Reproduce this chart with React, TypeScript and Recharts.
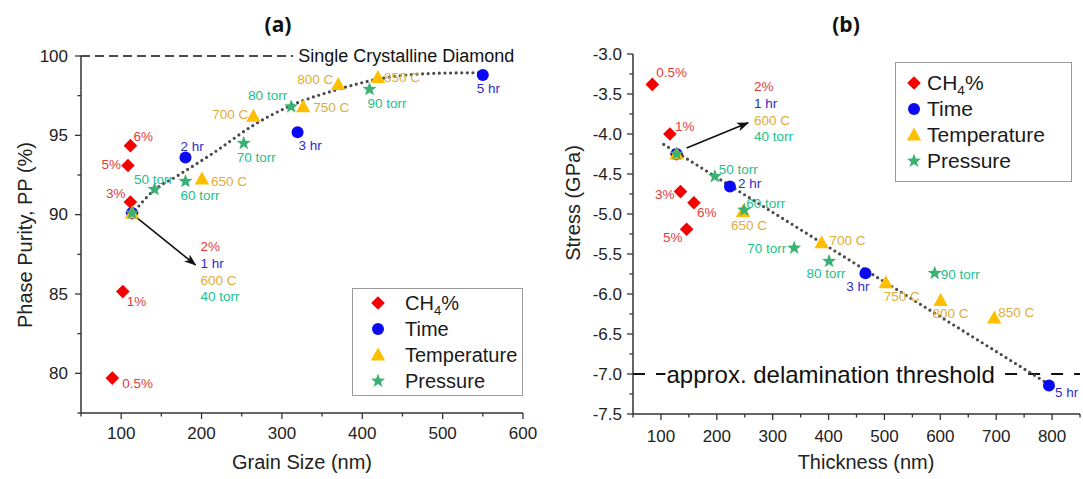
import React from "react";
import { ComposedChart, Line, Scatter, XAxis, YAxis, ReferenceLine, Legend } from "recharts";

type Pt = { x: number; y: number; label?: string };

// ---------- (a) phase purity vs grain size ----------
const ch4A: Pt[] = [
  { x: 89, y: 79.7, label: "0.5%" },
  { x: 102, y: 85.15, label: "1%" },
  { x: 113.5, y: 90.1 },
  { x: 111.5, y: 90.8, label: "3%" },
  { x: 108.5, y: 93.1, label: "5%" },
  { x: 111.5, y: 94.35, label: "6%" },
];
const timeA: Pt[] = [
  { x: 113.5, y: 90.1 },
  { x: 180, y: 93.6, label: "2 hr" },
  { x: 319.5, y: 95.2, label: "3 hr" },
  { x: 550, y: 98.8, label: "5 hr" },
];
const tempA: Pt[] = [
  { x: 113.5, y: 90.1 },
  { x: 200.5, y: 92.25, label: "650 C" },
  { x: 264.5, y: 96.2, label: "700 C" },
  { x: 326.5, y: 96.8, label: "750 C" },
  { x: 370, y: 98.2, label: "800 C" },
  { x: 419.5, y: 98.65, label: "850 C" },
];
const pressA: Pt[] = [
  { x: 113.5, y: 90.1 },
  { x: 141.5, y: 91.6, label: "50 torr" },
  { x: 180, y: 92.1, label: "60 torr" },
  { x: 252.5, y: 94.5, label: "70 torr" },
  { x: 311.5, y: 96.8, label: "80 torr" },
  { x: 409, y: 97.9, label: "90 torr" },
];
const trendA: Pt[] = [
  { x: 113, y: 90.0 },
  { x: 140, y: 91.5 },
  { x: 170, y: 92.45 },
  { x: 215, y: 93.9 },
  { x: 265, y: 95.65 },
  { x: 310, y: 96.85 },
  { x: 370, y: 97.9 },
  { x: 420, y: 98.55 },
  { x: 485, y: 98.9 },
  { x: 550, y: 98.95 },
];
const arrowA: Pt[] = [
  { x: 117.8, y: 89.87 },
  { x: 192.5, y: 86.83 },
];
const diamondRefA = [{ x: 50, y: 100 }, { x: 314, y: 100 }];
const diamondTextA = [{ x: 314, y: 100, label: "Single Crystalline Diamond" }];
const xTicksA = [50, 100, 150, 200, 250, 300, 350, 400, 450, 500, 550, 600];
const yTicksA = [77.5, 80, 82.5, 85, 87.5, 90, 92.5, 95, 97.5, 100];

// ---------- (b) stress vs thickness ----------
const ch4B: Pt[] = [
  { x: 84.5, y: -3.38, label: "0.5%" },
  { x: 116, y: -4.0, label: "1%" },
  { x: 128, y: -4.25 },
  { x: 135, y: -4.72, label: "3%" },
  { x: 159, y: -4.86, label: "6%" },
  { x: 146, y: -5.19, label: "5%" },
];
const timeB: Pt[] = [
  { x: 128, y: -4.25 },
  { x: 223.5, y: -4.655, label: "2 hr" },
  { x: 466, y: -5.74, label: "3 hr" },
  { x: 794.5, y: -7.145, label: "5 hr" },
];
const tempB: Pt[] = [
  { x: 128, y: -4.25 },
  { x: 247, y: -4.97, label: "650 C" },
  { x: 387.5, y: -5.36, label: "700 C" },
  { x: 502.5, y: -5.86, label: "750 C" },
  { x: 600.5, y: -6.08, label: "800 C" },
  { x: 696.5, y: -6.3, label: "850 C" },
];
const pressB: Pt[] = [
  { x: 128, y: -4.25 },
  { x: 196.5, y: -4.53, label: "50 torr" },
  { x: 249, y: -4.95, label: "60 torr" },
  { x: 338.5, y: -5.425, label: "70 torr" },
  { x: 401, y: -5.59, label: "80 torr" },
  { x: 590, y: -5.74, label: "90 torr" },
];
const trendB: Pt[] = [
  { x: 105, y: -4.13 },
  { x: 790, y: -7.11 },
];
const arrowB: Pt[] = [
  { x: 146, y: -4.175 },
  { x: 256, y: -3.86 },
];
const delamLeftB = [{ x: 50, y: -7 }, { x: 108, y: -7 }];
const delamRightB = [{ x: 716, y: -7 }, { x: 850, y: -7 }];
const delamTextB = [{ x: 110, y: -7, label: "approx. delamination threshold" }];
const xTicksB = [50, 100, 150, 200, 250, 300, 350, 400, 450, 500, 550, 600, 650, 700, 750, 800, 850];
const yTicksB = [-7.5, -7.25, -7, -6.75, -6.5, -6.25, -6, -5.75, -5.5, -5.25, -5, -4.75, -4.5, -4.25, -4, -3.75, -3.5, -3.25, -3];

const noteLines = ["2%", "1 hr", "600 C", "40 torr"];

// ---------- styling ----------
const SERIES = [
  { name: "ch4", fill: "#f40000", text: "#e53b3b", kind: "diamond" },
  { name: "Time", fill: "#0a0af2", text: "#2d2dcc", kind: "circle" },
  { name: "Temperature", fill: "#ffbf00", text: "#e0ad3a", kind: "triangle" },
  { name: "Pressure", fill: "#3bb273", text: "#22c08a", kind: "star" },
];

type Pos = [number, number, "start" | "middle" | "end"];
const labelPosA: Record<string, Pos> = {
  "0.5%": [10, 5, "start"], "1%": [4, 10, "start"], "3%": [-5, -8, "end"], "5%": [-7, -1, "end"], "6%": [3, -9, "start"],
  "2 hr": [-5, -11, "start"], "3 hr": [1, 13, "start"], "5 hr": [-6, 13, "start"],
  "650 C": [9, 3, "start"], "700 C": [-5, -2, "end"], "750 C": [10, 1, "start"], "800 C": [-5, -5, "end"], "850 C": [6, 0, "start"],
  "50 torr": [-1, -10, "middle"], "60 torr": [-5, 14, "start"], "70 torr": [-7, 14, "start"], "80 torr": [-4, -11, "end"], "90 torr": [-2, 14, "start"],
};
const labelPosB: Record<string, Pos> = {
  "0.5%": [4, -12, "start"], "1%": [5, -8, "start"], "3%": [-6, 3, "end"], "6%": [3, 10, "start"], "5%": [-4, 8, "end"],
  "2 hr": [8, -3, "start"], "3 hr": [4, 13, "end"], "5 hr": [6, 7, "start"],
  "650 C": [-12, 14, "start"], "700 C": [8, -2, "start"], "750 C": [-2, 14, "start"], "800 C": [-8, 13, "start"], "850 C": [4, -6, "start"],
  "50 torr": [4, -7, "start"], "60 torr": [2, -7, "start"], "70 torr": [-8, 0, "end"], "80 torr": [-3, 12, "middle"], "90 torr": [6, 1, "start"],
};

const FONT = '"Liberation Sans", Arial, sans-serif';
const AXIS = "#333";

function Marker({ kind, cx, cy, fill, s = 1 }: { kind: string; cx: number; cy: number; fill: string; s?: number }) {
  if (kind === "diamond") {
    const r = 6.8 * s;
    return <path d={`M${cx} ${cy - r}L${cx + r} ${cy}L${cx} ${cy + r}L${cx - r} ${cy}Z`} fill={fill} />;
  }
  if (kind === "circle") return <circle cx={cx} cy={cy} r={6 * s} fill={fill} />;
  if (kind === "triangle") {
    return <path d={`M${cx} ${cy - 7.5 * s}L${cx + 7.2 * s} ${cy + 5.5 * s}L${cx - 7.2 * s} ${cy + 5.5 * s}Z`} fill={fill} />;
  }
  const pts: string[] = [];
  for (let i = 0; i < 10; i++) {
    const rad = (i % 2 ? 3.1 : 7.4) * s;
    const a = -Math.PI / 2 + (i * Math.PI) / 5;
    pts.push(`${cx + rad * Math.cos(a)},${cy + rad * Math.sin(a)}`);
  }
  return <polygon points={pts.join(" ")} fill={fill} />;
}

const pointShape = (si: number, pos: Record<string, Pos>) => (p: any) => {
  const s = SERIES[si];
  const lab = p.payload?.label;
  const lp = lab ? pos[lab] : undefined;
  return (
    <g>
      <Marker kind={s.kind} cx={p.cx} cy={p.cy} fill={s.fill} />
      {lp && (
        <text x={p.cx + lp[0]} y={p.cy + lp[1]} textAnchor={lp[2]} dominantBaseline="central" fontSize={13.5} fill={s.text}>
          {lab}
        </text>
      )}
    </g>
  );
};

const textShape = (dx: number, size: number) => (p: any) => (
  <text x={p.cx + dx} y={p.cy} dominantBaseline="central" fontSize={size} fill="#111">
    {p.payload.label}
  </text>
);

const noteDot = (dx: number, dy0: number) => (p: any) => {
  if (p.index !== 1) return <g key={`n${p.index}`} />;
  return (
    <g key="note">
      {noteLines.map((t, i) => (
        <text key={t} x={p.cx + dx} y={p.cy + dy0 + i * 16.6} dominantBaseline="central" fontSize={13.5} fill={SERIES[i].text}>
          {t}
        </text>
      ))}
    </g>
  );
};

const yTick = (isMajor: (v: number) => boolean, fmt: (v: number) => string, gap: number) => (p: any) => {
  const v = p.payload.value;
  const major = isMajor(v);
  const len = major ? 6 : 3.5;
  return (
    <g>
      <line x1={p.x - len} x2={p.x} y1={p.y} y2={p.y} stroke={AXIS} strokeWidth={1.3} />
      {major && (
        <text x={p.x - gap} y={p.y} textAnchor="end" dominantBaseline="central" fontSize={17} fill="#222">
          {fmt(v)}
        </text>
      )}
    </g>
  );
};

const xTick = (isMajor: (v: number) => boolean, gap: number) => (p: any) => {
  const v = p.payload.value;
  const major = isMajor(v);
  const len = major ? 6 : 3.5;
  return (
    <g>
      <line x1={p.x} x2={p.x} y1={p.y} y2={p.y + len} stroke={AXIS} strokeWidth={1.3} />
      {major && (
        <text x={p.x} y={p.y + gap} textAnchor="middle" dominantBaseline="central" fontSize={17} fill="#222">
          {v}
        </text>
      )}
    </g>
  );
};

const LegendBox = ({ width, pad, mx, tx, fs }: { width: number; pad: number; mx: number; tx: number; fs: number }) => (
  <div style={{ width, border: "1px solid #9a9a9a", background: "#fff", padding: `${pad}px 0`, boxSizing: "border-box", fontFamily: FONT }}>
    {SERIES.map((s) => (
      <div key={s.name} style={{ display: "flex", alignItems: "center", height: 26 }}>
        <svg width={tx} height={26} style={{ flex: "none" }}>
          <Marker kind={s.kind} cx={mx} cy={13} fill={s.fill} />
        </svg>
        <span style={{ fontSize: fs, color: "#1a1a1a", lineHeight: "26px", whiteSpace: "nowrap" }}>
          {s.name === "ch4" ? (
            <>
              CH<sub style={{ fontSize: fs * 0.65, lineHeight: 0 }}>4</sub>%
            </>
          ) : (
            s.name
          )}
        </span>
      </div>
    ))}
  </div>
);

const abs = (l: number, t: number, extra: React.CSSProperties = {}): React.CSSProperties => ({
  position: "absolute",
  left: l,
  top: t,
  transform: "translate(-50%, -50%)",
  whiteSpace: "nowrap",
  ...extra,
});

export default function App() {
  const seriesA = [ch4A, timeA, tempA, pressA];
  const seriesB = [ch4B, timeB, tempB, pressB];
  return (
    <div style={{ position: "absolute", left: 0, top: 0, width: 1083, height: 479, background: "#fff", fontFamily: FONT, overflow: "hidden" }}>
      <svg width={0} height={0} style={{ position: "absolute" }}>
        <defs>
          <marker id="arrowhead" viewBox="0 0 12 10" refX="11" refY="5" markerWidth="12" markerHeight="10" markerUnits="userSpaceOnUse" orient="auto">
            <path d="M0,0.5 L12,5 L0,9.5 L3,5 Z" fill="#111" />
          </marker>
        </defs>
      </svg>

      <div style={{ position: "absolute", left: 0, top: 0 }}>
        <ComposedChart width={540} height={479} margin={{ top: 56, right: 17, bottom: 0, left: 0 }}>
          <XAxis dataKey="x" type="number" domain={[50, 600]} ticks={xTicksA} interval={0} height={66} tickSize={0} tickMargin={0}
            tickLine={false} axisLine={{ stroke: AXIS, strokeWidth: 1.5 }} tick={xTick((v) => v % 100 === 0, 20)} />
          <YAxis dataKey="y" type="number" domain={[77.5, 100]} ticks={yTicksA} interval={0} width={81} tickSize={0} tickMargin={0}
            tickLine={false} axisLine={{ stroke: AXIS, strokeWidth: 1.5 }} tick={yTick((v) => v % 5 === 0, (v) => String(v), 13)} />
          <ReferenceLine segment={diamondRefA} stroke="#111" strokeWidth={1.6} strokeDasharray="9 5" />
          <Scatter data={diamondTextA} dataKey="y" shape={textShape(5, 18)} isAnimationActive={false} legendType="none" />
          <Line data={trendA} dataKey="y" type="monotone" stroke="#4a4a4a" strokeWidth={3.2} strokeDasharray="0 5.6" strokeLinecap="round"
            dot={false} activeDot={false} isAnimationActive={false} legendType="none" />
          <Line data={arrowA} dataKey="y" type="linear" stroke="#111" strokeWidth={1.6} markerEnd="url(#arrowhead)"
            dot={noteDot(5, -18)} activeDot={false} isAnimationActive={false} legendType="none" />
          {seriesA.map((d, i) => (
            <Scatter key={i} data={d} dataKey="y" shape={pointShape(i, labelPosA)} isAnimationActive={false} />
          ))}
          <Legend layout="vertical" align="center" verticalAlign="middle" wrapperStyle={{ left: 352, top: 288, width: 171 }}
            content={() => <LegendBox width={171} pad={1} mx={25} tx={52} fs={20} />} />
        </ComposedChart>
      </div>

      <div style={{ position: "absolute", left: 540, top: 0 }}>
        <ComposedChart width={543} height={479} margin={{ top: 54, right: 3, bottom: 0, left: 0 }}>
          <XAxis dataKey="x" type="number" domain={[50, 850]} ticks={xTicksB} interval={0} height={65} tickSize={0} tickMargin={0}
            tickLine={false} axisLine={{ stroke: AXIS, strokeWidth: 1.5 }} tick={xTick((v) => v % 100 === 0, 22)} />
          <YAxis dataKey="y" type="number" domain={[-7.5, -3]} ticks={yTicksB} interval={0} width={93} tickSize={0} tickMargin={0}
            tickLine={false} axisLine={{ stroke: AXIS, strokeWidth: 1.5 }}
            tick={yTick((v) => Math.abs(v * 2 - Math.round(v * 2)) < 1e-6, (v) => v.toFixed(1), 11)} />
          <ReferenceLine segment={delamLeftB} stroke="#111" strokeWidth={2} strokeDasharray="12 11" />
          <ReferenceLine segment={delamRightB} stroke="#111" strokeWidth={2} strokeDasharray="12 11" />
          <Scatter data={delamTextB} dataKey="y" shape={textShape(0, 24)} isAnimationActive={false} legendType="none" />
          <Line data={trendB} dataKey="y" type="linear" stroke="#4a4a4a" strokeWidth={3.2} strokeDasharray="0 5.6" strokeLinecap="round"
            dot={false} activeDot={false} isAnimationActive={false} legendType="none" />
          <Line data={arrowB} dataKey="y" type="linear" stroke="#111" strokeWidth={1.6} markerEnd="url(#arrowhead)"
            dot={noteDot(6, -36)} activeDot={false} isAnimationActive={false} legendType="none" />
          {seriesB.map((d, i) => (
            <Scatter key={i} data={d} dataKey="y" shape={pointShape(i, labelPosB)} isAnimationActive={false} />
          ))}
          <Legend layout="vertical" align="center" verticalAlign="middle" wrapperStyle={{ left: 355, top: 62, width: 177 }}
            content={() => <LegendBox width={177} pad={7} mx={18} tx={31} fs={21} />} />
        </ComposedChart>
      </div>

      <div style={abs(278, 24, { fontFamily: '"Open Sans", sans-serif', fontWeight: 700, fontSize: 21, color: "#111" })}>(a)</div>
      <div style={abs(846, 24, { fontFamily: '"Open Sans", sans-serif', fontWeight: 700, fontSize: 21, color: "#111" })}>(b)</div>
      <div style={abs(25, 235, { fontSize: 20, color: "#222", transform: "translate(-50%, -50%) rotate(-90deg)" })}>Phase Purity, PP (%)</div>
      <div style={abs(302, 462, { fontSize: 20, color: "#222" })}>Grain Size (nm)</div>
      <div style={abs(573, 203, { fontSize: 20, color: "#222", transform: "translate(-50%, -50%) rotate(-90deg)" })}>Stress (GPa)</div>
      <div style={abs(866, 462, { fontSize: 20, color: "#222" })}>Thickness (nm)</div>
    </div>
  );
}
